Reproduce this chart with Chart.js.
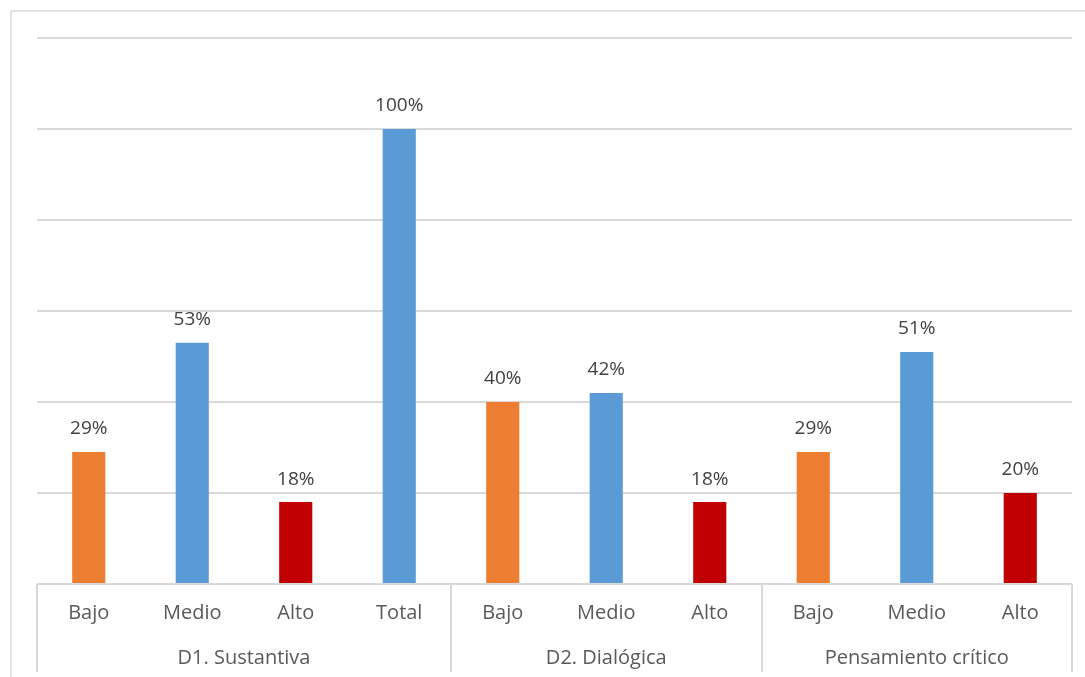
<!DOCTYPE html>
<html>
<head>
<meta charset="utf-8">
<script src="https://cdn.jsdelivr.net/npm/chart.js@4"></script>
<style>
  html, body { margin: 0; padding: 0; background: #fff; overflow: hidden; }
  #frame { position: absolute; left: 10px; top: 10px; width: 1100px; height: 700px; border: 2px solid #e3e3e3; box-sizing: border-box; }
  #wrap { position: absolute; left: 0; top: 0; width: 1085px; height: 677px; }
</style>
</head>
<body>
<div id="frame"></div>
<div id="wrap"><canvas id="chart" width="1085" height="677"></canvas></div>
<script>
// levels per dimension, and the dimensions they sit under
const levels = ['Bajo', 'Medio', 'Alto', 'Total', 'Bajo', 'Medio', 'Alto', 'Bajo', 'Medio', 'Alto'];
const groups = ['D1. Sustantiva', 'D2. Dialógica', 'Pensamiento crítico'];
const groupSizes = [4, 3, 3];
const percents = [29, 53, 18, 100, 40, 42, 18, 29, 51, 20];
const barColors = ['#ED7D31', '#5B9BD5', '#C00000', '#5B9BD5', '#ED7D31', '#5B9BD5', '#C00000', '#ED7D31', '#5B9BD5', '#C00000'];
const yTicks = [0, 20, 40, 60, 80, 100, 120];

const FONT = '"Open Sans", sans-serif';

// value labels above each bar
const valueLabels = {
    id: 'valueLabels',
    afterDatasetsDraw(chart) {
        const ctx = chart.ctx;
        const meta = chart.getDatasetMeta(0);
        ctx.save();
        ctx.font = '19px ' + FONT;
        ctx.fillStyle = '#404040';
        ctx.textAlign = 'center';
        ctx.textBaseline = 'middle';
        meta.data.forEach((bar, i) => {
            ctx.fillText(percents[i] + '%', bar.x, bar.y - 23);
        });
        ctx.restore();
    }
};

// two-level category axis: level names, then dimension names with separators
const groupedAxis = {
    id: 'groupedAxis',
    afterDraw(chart) {
        const ctx = chart.ctx;
        const x = chart.scales.x;
        const area = chart.chartArea;
        const step = (area.right - area.left) / levels.length;
        ctx.save();
        ctx.strokeStyle = '#d9d9d9';
        ctx.lineWidth = 2;
        ctx.fillStyle = '#595959';
        ctx.font = '20px ' + FONT;
        ctx.textAlign = 'center';
        ctx.textBaseline = 'middle';
        levels.forEach((lab, i) => {
            ctx.fillText(lab, x.getPixelForValue(i), area.bottom + 29);
        });
        let start = 0;
        const edges = [area.left];
        groups.forEach((g, gi) => {
            const end = start + groupSizes[gi];
            const left = x.getPixelForValue(start) - step / 2;
            const right = x.getPixelForValue(end - 1) + step / 2;
            ctx.fillText(g, (left + right) / 2, area.bottom + 74);
            edges.push(right);
            start = end;
        });
        edges.forEach(px => {
            const xx = Math.round(px);
            ctx.beginPath();
            ctx.moveTo(xx, area.bottom);
            ctx.lineTo(xx, area.bottom + 88);
            ctx.stroke();
        });
        ctx.restore();
    }
};

new Chart(document.getElementById('chart'), {
    type: 'bar',
    data: {
        labels: levels,
        datasets: [{
            data: percents,
            backgroundColor: barColors,
            borderWidth: 0,
            categoryPercentage: 1,
            barPercentage: 0.32
        }]
    },
    options: {
        responsive: false,
        animation: false,
        layout: { padding: { left: 37, right: 13, top: 38, bottom: 93 } },
        scales: {
            x: { display: false },
            y: {
                min: 0,
                max: 120,
                afterBuildTicks(scale) { scale.ticks = yTicks.map(v => ({ value: v })); },
                ticks: { display: false },
                border: { display: false },
                grid: { color: '#d9d9d9', lineWidth: 2, drawTicks: false }
            }
        },
        plugins: {
            legend: { display: false },
            tooltip: { enabled: false }
        }
    },
    plugins: [valueLabels, groupedAxis]
});
</script>
</body>
</html>
